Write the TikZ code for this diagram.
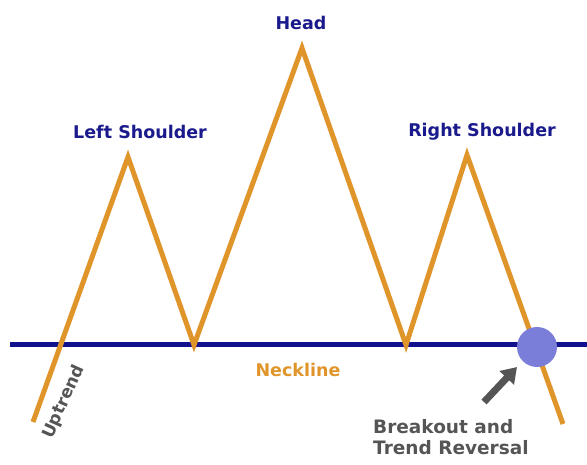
\documentclass[tikz,border=0pt]{standalone}
\usepackage{fontspec}
\setmainfont{DejaVu Sans}
\usetikzlibrary{arrows.meta}
\definecolor{trend}{HTML}{E0952B}
\definecolor{neck}{HTML}{12128F}
\definecolor{lbl}{HTML}{1A1A8C}
\definecolor{greytxt}{HTML}{555555}
\definecolor{dot}{HTML}{7B7ED8}
\tikzset{
  peaklabel/.style={font=\bfseries\fontsize{17.5}{21}\selectfont, text=lbl, inner sep=0pt},
  notetxt/.style={font=\bfseries\fontsize{18.5}{21}\selectfont, text=greytxt, inner sep=0pt, align=left},
  pricepath/.style={draw=trend, line width=5pt, line join=miter, miter limit=20},
  necklinestyle/.style={draw=neck, line width=5pt},
}
\begin{document}
\begin{tikzpicture}[x=1pt,y=-1pt]
\useasboundingbox (0,0) rectangle (587,465);
% key points
\coordinate (start) at (33,422);
\coordinate (ls) at (128,157);
\coordinate (t1) at (194,345);
\coordinate (hd) at (302,48);
\coordinate (t2) at (406,345);
\coordinate (rs) at (467,155);
\coordinate (end) at (563,424);
\coordinate (nl) at (10,345);
\coordinate (nr) at (587,345);
% neckline
\draw[necklinestyle] (nl) -- (nr);
% price path
\draw[pricepath] (start) -- (ls) -- (t1) -- (hd) -- (t2) -- (rs) -- (end);
% breakout point
\node[circle, fill=dot, minimum size=40pt, inner sep=0pt] (brk) at (537,347) {};
% labels
\node[peaklabel] (headlbl) at (301,23) {Head};
\node[peaklabel] (lslbl) at (140,132) {Left Shoulder};
\node[peaklabel] (rslbl) at (482,132) {Right Shoulder};
\node[font=\bfseries\fontsize{17.5}{21}\selectfont, text=trend, inner sep=0pt] (necklbl) at (298,370) {Neckline};
\node[font=\bfseries\fontsize{17}{18}\selectfont, text=greytxt, inner sep=0pt, rotate=66] (uplbl) at (64,402) {Uptrend};
\node[notetxt, anchor=north west] (note) at (373,419) {Breakout and\\Trend Reversal};
% arrow
\coordinate (arrtail) at (484,402);
\draw[greytxt, line width=7pt, -{Triangle[width=19pt,length=15pt]}] (arrtail) -- (517,367);
\end{tikzpicture}
\end{document}
